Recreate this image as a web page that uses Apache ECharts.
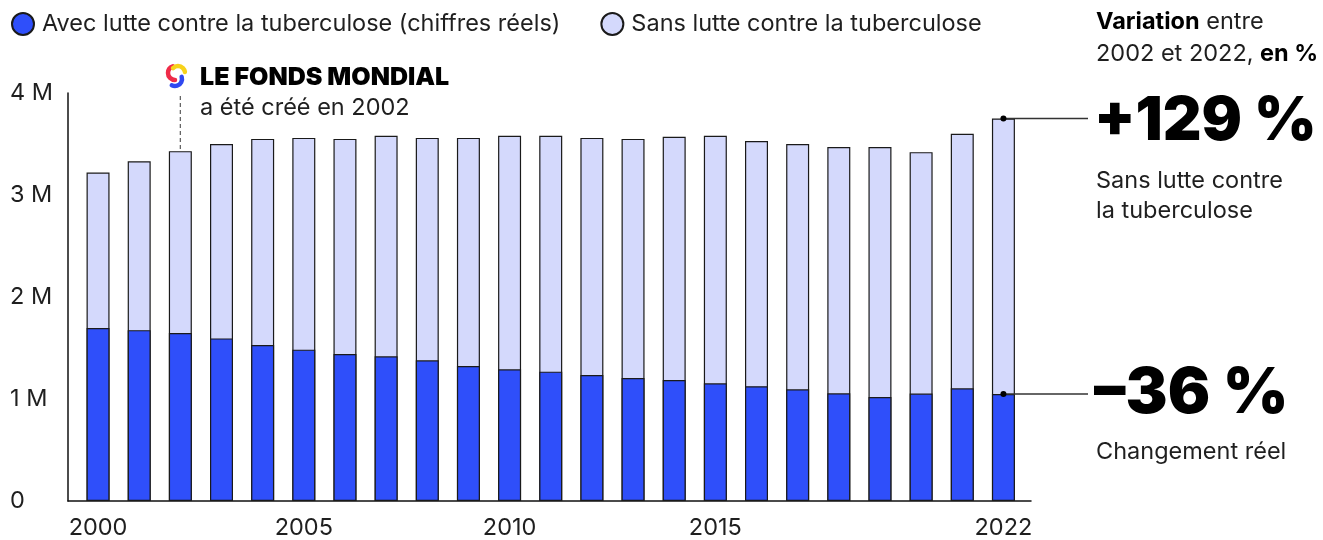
<!DOCTYPE html>
<html>
<head>
<meta charset="utf-8">
<script src="https://cdn.jsdelivr.net/npm/echarts@6/dist/echarts.min.js"></script>
<style>
  html, body { margin: 0; padding: 0; background: #fff; }
  #chart { width: 1323px; height: 540px; }
</style>
</head>
<body>
<div id="chart"></div>
<script>
const years = [2000, 2001, 2002, 2003, 2004, 2005, 2006, 2007, 2008, 2009, 2010, 2011,
  2012, 2013, 2014, 2015, 2016, 2017, 2018, 2019, 2020, 2021, 2022];
// deaths with TB response (real figures)
const avecLutte = [1695000, 1675000, 1646000, 1594000, 1529000, 1484000, 1441000, 1418000,
  1379000, 1323000, 1291000, 1268000, 1235000, 1206000, 1186000, 1154000, 1125000,
  1095000, 1056000, 1020000, 1053000, 1105000, 1049000];
// deaths without TB response
const sansLutte = [3220000, 3330000, 3430000, 3500000, 3550000, 3560000, 3550000, 3580000,
  3560000, 3560000, 3580000, 3580000, 3560000, 3550000, 3570000, 3580000, 3530000,
  3500000, 3470000, 3470000, 3420000, 3600000, 3750000];
const yearLabels = [2000, 2005, 2010, 2015, 2022];

const FONT = 'Inter, "Noto Sans", sans-serif';
const TXT = '#1f1f1f';
const FS = 23.5;

const chart = echarts.init(document.getElementById('chart'), null, { renderer: 'canvas' });

const option = {
  animation: false,
  textStyle: { fontFamily: FONT },
  legend: {
    left: 6,
    top: 7,
    itemWidth: 22,
    itemHeight: 22,
    itemGap: 40,
    icon: 'circle',
    textStyle: { fontFamily: FONT, fontSize: FS, color: TXT, padding: [0, 0, 0, 3] },
    data: ['Avec lutte contre la tuberculose (chiffres réels)', 'Sans lutte contre la tuberculose']
  },
  grid: { left: 68, right: 292, top: 93, bottom: 38, containLabel: false },
  xAxis: {
    type: 'value',
    min: 1999.27,
    max: 2022.67,
    splitLine: { show: false },
    axisTick: { show: false },
    axisLine: { show: true, onZero: false, lineStyle: { color: '#111', width: 1.5 } },
    axisLabel: {
      customValues: yearLabels,
      formatter: v => String(v),
      fontSize: FS,
      color: TXT,
      margin: 15,
      fontFamily: FONT
    }
  },
  yAxis: {
    type: 'value',
    min: 0,
    max: 4000000,
    interval: 1000000,
    splitLine: { show: false },
    axisTick: { show: false },
    axisLine: { show: true, lineStyle: { color: '#111', width: 1.5 } },
    axisLabel: {
      align: 'left',
      margin: 58,
      fontSize: FS,
      color: TXT,
      fontFamily: FONT,
      formatter: v => v === 0 ? '0' : (v / 1000000) + ' M'
    }
  },
  series: [
    {
      name: 'Sans lutte contre la tuberculose',
      type: 'bar',
      barWidth: 23,
      barGap: '-100%',
      itemStyle: { color: '#d4d9fc', borderColor: '#1a1a1a', borderWidth: 1.2 },
      data: years.map((y, i) => [y, sansLutte[i]]),
      z: 2
    },
    {
      name: 'Avec lutte contre la tuberculose (chiffres réels)',
      type: 'bar',
      barWidth: 23,
      barGap: '-100%',
      itemStyle: { color: '#2f4ffa', borderColor: '#1a1a1a', borderWidth: 1.2 },
      data: years.map((y, i) => [y, avecLutte[i]]),
      z: 3
    }
  ]
};
chart.setOption(option);

// annotations placed with the chart's own scales
const last = years.length - 1;
const pTop = chart.convertToPixel({ gridIndex: 0 }, [years[last], sansLutte[last]]);
const pLow = chart.convertToPixel({ gridIndex: 0 }, [years[last], avecLutte[last]]);
const p2002 = chart.convertToPixel({ gridIndex: 0 }, [2002, sansLutte[2]]);
const lineEnd = 1088;
const tx = 1096;

const lc = [174, 76];
const arcStyle = c => ({ stroke: c, lineWidth: 4.5, fill: null, lineCap: 'round' });
const graphic = [
  // Global Fund logo (approximation: three swirling strokes)
  { type: 'arc', shape: { cx: lc[0] + 1, cy: lc[1] - 3, r: 7, startAngle: Math.PI * 0.5, endAngle: Math.PI * 1.4 }, style: arcStyle('#ef2b48') },
  { type: 'arc', shape: { cx: lc[0] + 4, cy: lc[1] - 3, r: 7, startAngle: Math.PI * 1.25, endAngle: Math.PI * 1.95 }, style: arcStyle('#f7d21a') },
  { type: 'arc', shape: { cx: lc[0] + 1, cy: lc[1] + 3, r: 7, startAngle: Math.PI * 1.9, endAngle: Math.PI * 2.65 }, style: arcStyle('#3048f0') },
  { type: 'text', x: 200, y: 77, style: { text: 'LE FONDS MONDIAL', font: '900 25px ' + FONT, fill: '#000', textVerticalAlign: 'middle' } },
  { type: 'text', x: 200, y: 108, style: { text: 'a été créé en 2002', font: FS + 'px ' + FONT, fill: TXT, textVerticalAlign: 'middle' } },
  { type: 'line', shape: { x1: p2002[0], y1: 96, x2: p2002[0], y2: p2002[1] },
    style: { stroke: '#666', lineWidth: 1.3, lineDash: [4, 3] } },

  // right-hand panel
  { type: 'text', x: tx, y: 22, style: {
      text: '{b|Variation} entre', textVerticalAlign: 'middle',
      rich: { b: { font: 'bold ' + FS + 'px ' + FONT, fill: '#000' } }, font: FS + 'px ' + FONT, fill: TXT } },
  { type: 'text', x: tx, y: 54, style: {
      text: '2002 et 2022, {b|en %}', textVerticalAlign: 'middle',
      rich: { b: { font: 'bold ' + FS + 'px ' + FONT, fill: '#000' } }, font: FS + 'px ' + FONT, fill: TXT } },

  { type: 'line', shape: { x1: pTop[0], y1: pTop[1], x2: lineEnd, y2: pTop[1] }, style: { stroke: '#333', lineWidth: 1.5 }, z: 10 },
  { type: 'circle', shape: { cx: pTop[0], cy: pTop[1], r: 3 }, style: { fill: '#000' }, z: 11 },
  { type: 'text', x: tx - 2, y: pTop[1] + 3, style: { text: '+129 %', font: '900 60px ' + FONT, fill: '#000', textVerticalAlign: 'middle' } },
  { type: 'text', x: tx, y: 181, style: { text: 'Sans lutte contre', font: FS + 'px ' + FONT, fill: TXT, textVerticalAlign: 'middle' } },
  { type: 'text', x: tx, y: 211, style: { text: 'la tuberculose', font: FS + 'px ' + FONT, fill: TXT, textVerticalAlign: 'middle' } },

  { type: 'line', shape: { x1: pLow[0], y1: pLow[1], x2: lineEnd, y2: pLow[1] }, style: { stroke: '#333', lineWidth: 1.5 }, z: 10 },
  { type: 'circle', shape: { cx: pLow[0], cy: pLow[1], r: 3 }, style: { fill: '#000' }, z: 11 },
  { type: 'text', x: tx - 2, y: pLow[1], style: { text: '–36 %', font: '900 63px ' + FONT, fill: '#000', textVerticalAlign: 'middle' } },
  { type: 'text', x: tx, y: 452, style: { text: 'Changement réel', font: FS + 'px ' + FONT, fill: TXT, textVerticalAlign: 'middle' } }
];
chart.setOption({ graphic: graphic });
</script>
</body>
</html>
